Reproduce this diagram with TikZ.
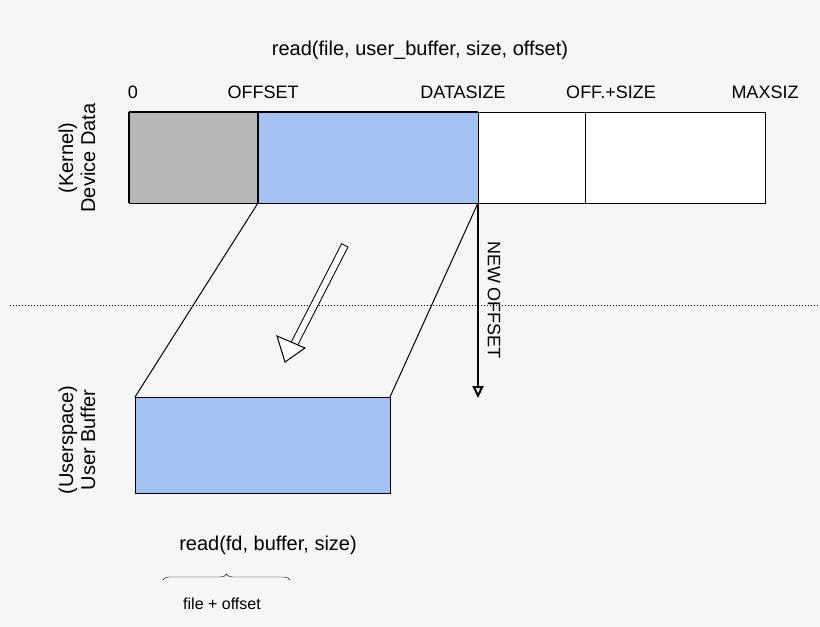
\documentclass[tikz,border=0pt]{standalone}
\usepackage{fontspec}
\setmainfont{Liberation Sans}
\usetikzlibrary{arrows.meta,decorations.pathreplacing,calc}
\definecolor{bg}{RGB}{246,246,246}
\definecolor{bufblue}{RGB}{164,194,244}
\definecolor{datgray}{RGB}{183,183,183}
\begin{document}
\begin{tikzpicture}[x=1pt,y=-1pt,
lbl/.style={font=\fontsize{20}{22}\selectfont, inner sep=0pt},
small/.style={font=\fontsize{16}{18}\selectfont, inner sep=0pt},
cell/.style={draw=black, line width=1pt},
]
\fill[bg] (0,0) rectangle (820,627);
\useasboundingbox (0,0) rectangle (820,627);
%Titles
\node[lbl] (title) at (420,50) {read(file, user\_buffer, size, offset)};
\node[small,font=\fontsize{18}{20}\selectfont] (l0)   at (133,92) {0};
\node[small,font=\fontsize{18}{20}\selectfont] (loff) at (263,92) {OFFSET};
\node[small,font=\fontsize{18}{20}\selectfont] (ldat) at (463,92) {DATASIZE};
\node[small,font=\fontsize{18}{20}\selectfont] (lsum) at (611,92) {OFF.+SIZE};
\node[small,font=\fontsize{18}{20}\selectfont] (lmax) at (765,92) {MAXSIZ};
%Device data
\draw[cell,fill=datgray] (129,112) rectangle (258,203);
\draw[cell,fill=bufblue] (258,112) rectangle (478,203);
\draw[cell,fill=white] (478,112) rectangle (585,203);
\draw[cell,fill=white] (585,112) rectangle (765,203);
\draw[line width=2pt] (129,112) -- (129,203);
\draw[line width=2pt] (258,112) -- (258,203);
\draw[line width=2pt] (129,112) -- (478,112);
%User buffer
\draw[cell,fill=bufblue] (135,397) rectangle (390,493);
\coordinate (p1) at (258,203);
\coordinate (p2) at (478,203);
\coordinate (q1) at (135,397);
\coordinate (q2) at (390,397);
\draw[line width=1pt] (p1) -- (q1);
\draw[line width=1pt] (p2) -- (q2);
%Separator
\draw[dotted, line width=1pt] (10,305) -- (820,305);
%Copy arrow
\coordinate (ca) at (345,245);
\coordinate (cb) at (285,362);
\draw[line width=8pt, black] (ca) -- ($(cb)!0.16!(ca)$);
\draw[line width=6pt, white, shorten <=1pt] (ca) -- ($(cb)!0.15!(ca)$);
\fill[white,draw=black,line width=1pt] (cb) -- ++(-8,-26) -- ++(28,12) -- cycle;
%New offset
\coordinate (no) at (478,398);
\draw[line width=2pt,-{Triangle[open,length=12pt,width=11pt]}] (p2) -- (no);
\node[small,font=\fontsize{18}{20}\selectfont,rotate=-90] (nol) at (494,300) {NEW OFFSET};
%Side labels
\node[lbl,rotate=90,align=center] (kern) at (77,158) {(Kernel)\\Device Data};
\node[lbl,rotate=90,align=center] (user) at (77,440) {(Userspace)\\User Buffer};
%User call
\node[lbl] (call) at (268,545) {read(fd, buffer, size)};
\draw[decorate,decoration={brace,amplitude=6pt}] (163,580) -- (290,580);
\node[small] (fo) at (222,604) {file + offset};
\end{tikzpicture}
\end{document}
